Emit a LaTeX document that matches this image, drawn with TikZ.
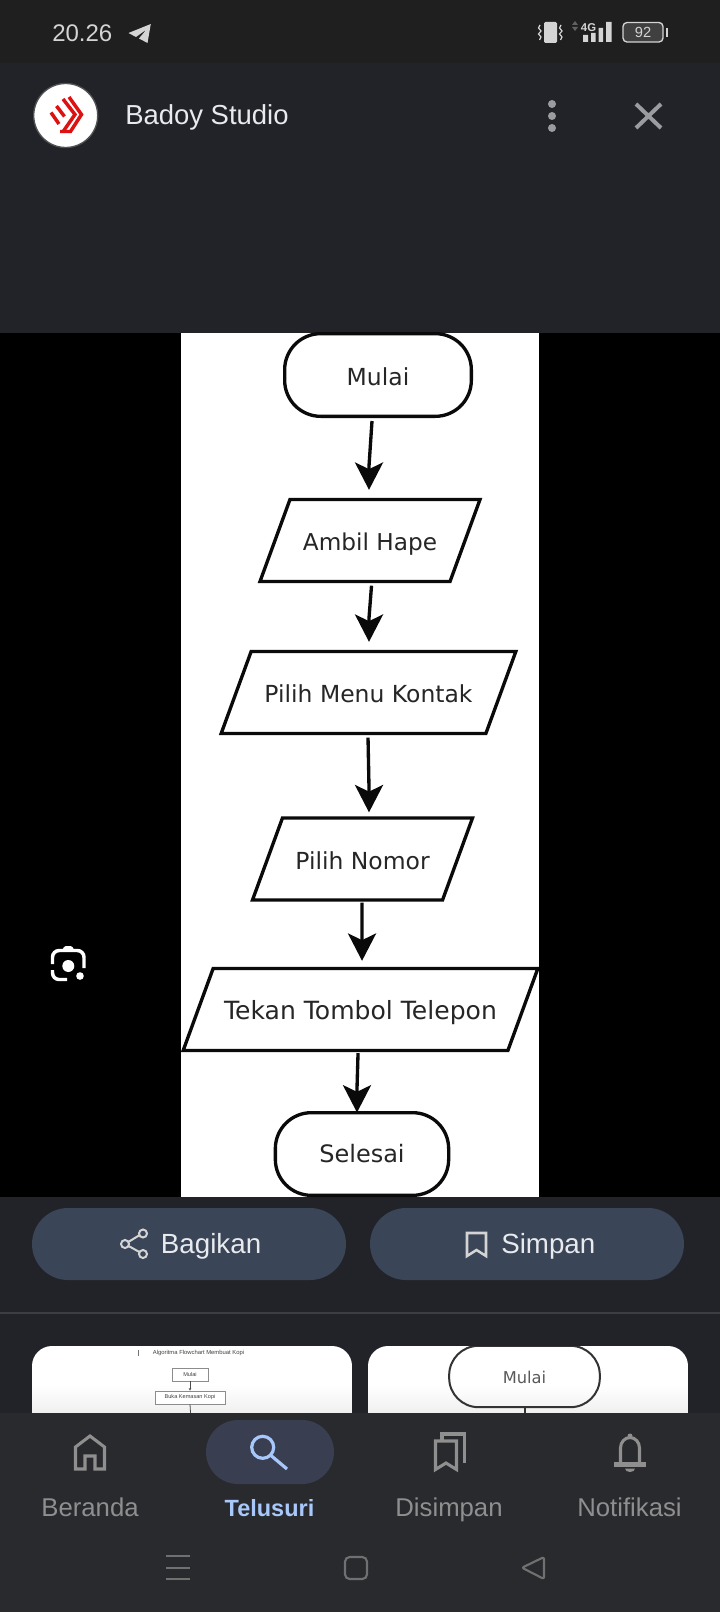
\documentclass[tikz,border=0pt]{standalone}
\usepackage{fontspec}
\setmainfont{Liberation Sans}
\newfontfamily\flowfont{DejaVu Sans}
\usetikzlibrary{arrows.meta,shapes.geometric,calc}
\definecolor{barbg}{HTML}{1F1F1F}
\definecolor{panelbg}{HTML}{212328}
\definecolor{navbg}{HTML}{292A2D}
\definecolor{pillbg}{HTML}{3A4557}
\definecolor{searchbg}{HTML}{393F50}
\definecolor{accent}{HTML}{A8C7FA}
\definecolor{uitext}{HTML}{E8EAED}
\definecolor{navgrey}{HTML}{8F8F8F}
\definecolor{iconlight}{HTML}{D4D4D4}
\definecolor{icongrey}{HTML}{9A9CA0}
\definecolor{softkey}{HTML}{707070}
\definecolor{logored}{HTML}{DC1212}
\definecolor{inkblack}{HTML}{0A0A0A}
\newcommand{\fs}[1]{\fontsize{#1}{#1}\selectfont}
\tikzset{
  x=0.75pt,y=-0.75pt,
  flowline/.style={line width=2.5pt,draw=inkblack},
  term/.style={flowline,rectangle,rounded corners=27pt,fill=white,inner sep=0pt,text height=15.5pt,text depth=0pt,text=black!85,font=\flowfont\fs{17.6pt}},
  para/.style={flowline,trapezium,trapezium left angle=34.6,trapezium right angle=145.4,trapezium stretches body=true,minimum height=61.5pt,inner sep=0pt,text height=15.5pt,text depth=0pt,fill=white,text=black!85,font=\flowfont\fs{17.6pt}},
  conn/.style={line width=2.5pt,draw=inkblack,-{Stealth[length=20.5pt,width=21pt,inset=5pt]}},
  uilabel/.style={inner sep=0pt,anchor=base west,text=uitext,font=\fs{20.8pt}},
  navlabel/.style={inner sep=0pt,anchor=base,text=navgrey,font=\fs{19.3pt}},
  navicon/.style={draw=navgrey,line width=2.3pt,line join=miter},
  softk/.style={draw=softkey,line width=1.6pt},
}
\begin{document}
\begin{tikzpicture}
\useasboundingbox (0,0) rectangle (720,1612);
% backgrounds
\fill[barbg] (0,0) rectangle (720,63);
\fill[panelbg] (0,63) rectangle (720,1413);
\fill[black] (0,332.5) rectangle (720,1197);
\fill[white] (181,332.5) rectangle (539,1197);
% status bar
\node[inner sep=0pt,anchor=base west,text=iconlight,font=\fs{18pt}] (clock) at (52,41.5) {20.26};
\fill[iconlight] (150.8,24) -- (128.5,33) -- (136,37) -- (146.5,29.5) -- (139,38.5) -- (147.5,43) -- cycle;
\fill[iconlight,rounded corners=1pt] (544,22) rectangle (557,43);
\draw[iconlight,line width=0.9pt] (540,25) -- (538.5,28) -- (541,31) -- (538.5,34) -- (541,37) -- (539.5,40);
\draw[iconlight,line width=0.9pt] (561,25) -- (559.5,28) -- (562,31) -- (559.5,34) -- (562,37) -- (560.5,40);
\fill[black!62] (575,21) -- (578,25) -- (572,25) -- cycle (572,27) -- (578,27) -- (575,31) -- cycle;
\node[inner sep=0pt,anchor=base,text=iconlight,font=\bfseries\fs{8.5pt}] (fourg) at (588.5,31.5) {4G};
\fill[iconlight] (583,35) rectangle (588,42) (591,33) rectangle (595.5,42) (598.5,28) rectangle (603,42) (606,22) rectangle (611.5,42);
\draw[iconlight,fill=black!75,line width=1pt,rounded corners=3pt] (623,22.5) rectangle (663,42);
\fill[iconlight] (665.5,28) rectangle (667.5,37);
\node[inner sep=0pt,text=iconlight,font=\fs{11pt}] (batt) at (643,32.3) {92};
% header
\fill[white,draw=black!60!white!70!panelbg,line width=1pt] (65.7,115.5) circle (32);
\begin{scope}[draw=logored,line width=2.6pt,line join=miter]
\draw (69,97) -- (81.5,114.5) -- (70.5,131.5) -- (60,131.5);
\draw (63,99) -- (75,114.5) -- (63.5,131);
\draw (56.5,106) -- (64.5,116.5);
\draw (51,112.5) -- (59,124);
\end{scope}
\node[uilabel,font=\fs{20.6pt}] (title) at (125,125) {Badoy Studio};
\fill[icongrey] (552,104) circle (4) (552,116) circle (4) (552,128) circle (4);
\draw[icongrey,line width=3pt] (636,104) -- (661,128) (661,104) -- (636,128);
% flowchart
\begin{scope}
\clip (181,332.5) rectangle (539,1197);
\node[term,minimum width=140pt,minimum height=62pt] (mulai) at (378,375) {Mulai};
\node[para,minimum width=165pt,font=\flowfont\fs{17.4pt}] (ambil) at (370,540.5) {Ambil Hape};
\node[para,minimum width=221pt] (menu) at (368.5,692.5) {Pilih Menu Kontak};
\node[para,minimum width=165pt] (nomor) at (362.5,859) {Pilih Nomor};
\node[para,minimum width=266pt,font=\flowfont\fs{18.8pt}] (tekan) at (360.5,1009.5) {Tekan Tombol Telepon};
\node[term,minimum width=130pt,minimum height=62pt,text height=12.5pt,font=\flowfont\fs{18pt}] (selesai) at (362,1154) {Selesai};
\coordinate (tipa) at ($(ambil.north)+(-1,-8)$);
\coordinate (tipb) at ($(menu.north)+(0.5,-8)$);
\coordinate (tipc) at ($(nomor.north)+(6.5,-4)$);
\coordinate (tipd) at ($(tekan.north)+(1.5,-6)$);
\coordinate (tipe) at ($(selesai.north)+(-5,1.5)$);
\draw[conn] ($(mulai.south)+(-6,3)$) -- ($(tipa)+(0,-24)$) -- (tipa);
\draw[conn] ($(ambil.south)+(1.5,2.5)$) -- ($(tipb)+(0,-24)$) -- (tipb);
\draw[conn] ($(menu.south)+(-0.5,2.5)$) -- ($(tipc)+(0,-24)$) -- (tipc);
\draw[conn] ($(nomor.south)+(-0.5,1)$) -- ($(tipd)+(0,-24)$) -- (tipd);
\draw[conn] ($(tekan.south)+(-2.5,1)$) -- ($(tipe)+(0,-24)$) -- (tipe);
\end{scope}
% buttons
\fill[pillbg,rounded corners=27pt] (32,1208) rectangle (346,1280);
\fill[pillbg,rounded corners=27pt] (370,1208) rectangle (684,1280);
\draw[iconlight,line width=1.5pt] (143,1233) -- (125,1244) -- (143,1254);
\draw[iconlight,line width=1.5pt,fill=pillbg] (143,1233.5) circle (4) (125,1244) circle (4) (143,1254) circle (4);
\node[uilabel] (bagikan) at (160.7,1253) {Bagikan};
\draw[iconlight,line width=1.9pt,line join=miter] (467,1233) -- (486,1233) -- (486,1256) -- (476.5,1250) -- (467,1256) -- cycle;
\node[uilabel] (simpan) at (501,1253) {Simpan};
\fill[black!20!panelbg!85!white] (0,1312) rectangle (720,1314);
% thumbnails
\begin{scope}
\clip[rounded corners=15pt] (32,1346) rectangle (352,1450);
\fill[white] (32,1346) rectangle (352,1413);
\shade[top color=white,bottom color=black!6] (32,1385) rectangle (352,1413);
\draw[black!55,line width=0.4pt] (138,1350) -- (138,1356);
\node[inner sep=0pt,text=black!75,font=\fs{4.4pt}] (t1) at (198.5,1352.5) {Algoritma Flowchart Membuat Kopi};
\node[draw=black!45,line width=0.5pt,fill=white,minimum width=27pt,minimum height=9.5pt,inner sep=0pt,text=black!75,font=\fs{4.2pt}] (t2) at (190,1374.5) {Mulai};
\node[draw=black!45,line width=0.5pt,fill=white,minimum width=52.5pt,minimum height=9.8pt,inner sep=0pt,text=black!75,font=\fs{4.2pt}] (t3) at (190,1397.5) {Buka Kemasan Kopi};
\draw[black!70,line width=0.5pt,-{Stealth[length=2pt,width=2pt]}] (t2) -- (t3);
\coordinate (t4) at (191,1420);
\draw[black!70,line width=0.6pt] (t3.south) -- (t4);
\end{scope}
\begin{scope}
\clip[rounded corners=15pt] (368,1346) rectangle (688,1450);
\fill[white] (368,1346) rectangle (688,1413);
\shade[top color=white,bottom color=black!6] (368,1385) rectangle (688,1413);
\node[draw=black!80,line width=1.5pt,rounded corners=22pt,fill=none,minimum width=113pt,minimum height=46pt,inner sep=0pt,text height=10pt,text depth=0pt,text=black!65,font=\flowfont\fs{12.2pt}] (t5) at (524.5,1376.5) {Mulai};
\coordinate (t6) at (524.5,1420);
\draw[black!80,line width=1.5pt] (t5.south) -- (t6);
\end{scope}
% bottom nav
\fill[navbg] (0,1413) rectangle (720,1612);
\fill[searchbg,rounded corners=24pt] (206,1420) rectangle (334,1484);
\draw[accent,line width=2.4pt] (262.7,1447.3) circle (11);
\draw[accent,line width=2.4pt] (271,1455.5) -- (287,1469);
\draw[navicon] (75.5,1469) -- (75.5,1447) -- (90,1436) -- (104.5,1447) -- (104.5,1469) -- (95,1469) -- (95,1456) -- (85,1456) -- (85,1469) -- cycle;
\draw[navicon] (435.5,1441) -- (456.5,1441) -- (456.5,1469.5) -- (446,1463) -- (435.5,1469.5) -- cycle;
\draw[navicon] (442,1440) -- (442,1434) -- (464.5,1434) -- (464.5,1463);
\draw[navicon] (620.5,1463) -- (620.5,1448) arc (180:360:9.5 and 10.5) -- (639.5,1463);
\fill[navgrey] (630,1436) circle (2.5);
\fill[navgrey] (614,1462) rectangle (646,1466.5);
\fill[navgrey] (625,1468.5) -- (635,1468.5) arc (0:180:5 and 3.5) -- cycle;
\node[navlabel] (l1) at (90,1516.5) {Beranda};
\node[navlabel,text=accent,font=\bfseries\fs{17.6pt}] (l2) at (269.5,1516.5) {Telusuri};
\node[navlabel] (l3) at (449,1516.5) {Disimpan};
\node[navlabel] (l4) at (629.5,1516.5) {Notifikasi};
\draw[softk] (166,1556) -- (190,1556) (166,1567.7) -- (190,1567.7) (166,1579) -- (190,1579);
\draw[softk,rounded corners=3.5pt] (345,1557) rectangle (367,1579);
\draw[softk,rounded corners=1.5pt,line join=round] (544,1557) -- (522,1567.7) -- (544,1579) -- cycle;
% lens icon
\fill[white,rounded corners=1pt] (62,950.5) -- (64.5,946) -- (72,946) -- (74.5,950.5) -- cycle;
\draw[white,line width=2.6pt,rounded corners=5pt] (52.5,964) -- (52.5,950.5) -- (84,950.5) -- (84,968);
\draw[white,line width=2.6pt,rounded corners=5pt] (52.5,970) -- (52.5,979.5) -- (67,979.5);
\fill[white] (68.3,966) circle (6) (80,976) circle (3.8);
\end{tikzpicture}
\end{document}
